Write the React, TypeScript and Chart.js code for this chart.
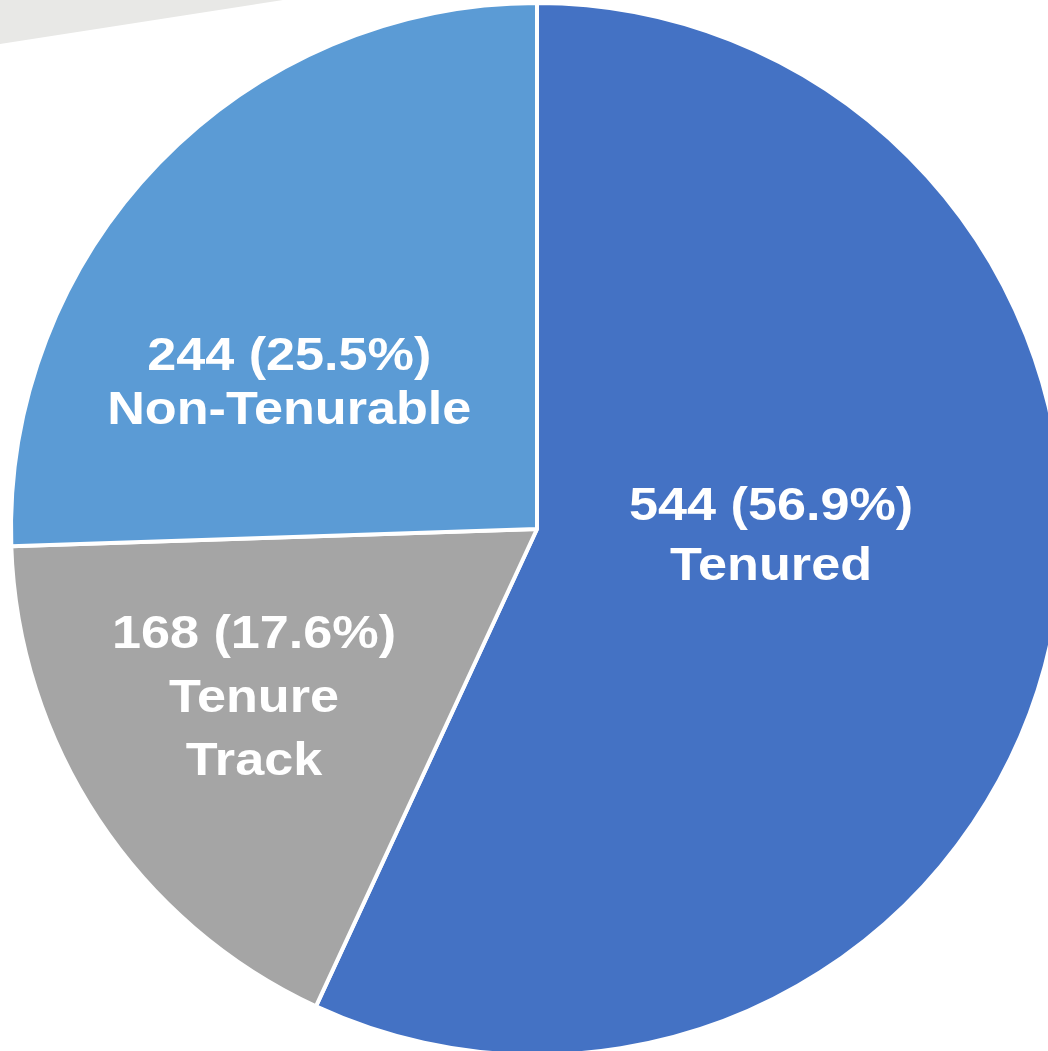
import React, { useEffect, useRef } from "react";
import { Chart, registerables } from "chart.js";

Chart.register(...registerables);

const CATEGORIES = ["Tenured", "Tenure Track", "Non-Tenurable"];
const LABEL_LINES = [["Tenured"], ["Tenure", "Track"], ["Non-Tenurable"]];
const COUNTS = [544, 168, 244];
const PERCENTS = ["56.9%", "17.6%", "25.5%"];
const COLORS = ["#4472C4", "#A5A5A5", "#5B9BD5"];

// label placement (style): first-baseline offset from pie centre in radius units, and line height
const LABEL_PLACE = [
  { fx: 0.445, fy: -0.017, lh: 60 },
  { fx: -0.538, fy: 0.227, lh: 63.5 },
  { fx: -0.471, fy: -0.303, lh: 54 },
];

const CANVAS_W = 1074;
const CANVAS_H = 1058;

const labelPlugin = {
  id: "sliceLabels",
  afterDatasetsDraw(chart: any) {
    const { ctx } = chart;
    const meta = chart.getDatasetMeta(0);
    meta.data.forEach((arc: any, i: number) => {
      const r = arc.outerRadius;
      const place = LABEL_PLACE[i];
      const x = arc.x + place.fx * r;
      const y0 = arc.y + place.fy * r;
      const lines = [`${COUNTS[i]} (${PERCENTS[i]})`, ...LABEL_LINES[i]];
      ctx.save();
      ctx.fillStyle = "#FFFFFF";
      ctx.font = "bold 47px 'Liberation Sans', Arial, sans-serif";
      ctx.textAlign = "center";
      ctx.textBaseline = "alphabetic";
      lines.forEach((line, k) => {
        ctx.save();
        ctx.translate(x, y0 + k * place.lh);
        ctx.scale(1.11, 1);
        ctx.fillText(line, 0, 0);
        ctx.restore();
      });
      ctx.restore();
    });
  },
};

export default function App() {
  const ref = useRef<HTMLCanvasElement | null>(null);
  useEffect(() => {
    if (!ref.current) return;
    const chart = new Chart(ref.current, {
      type: "pie",
      data: {
        labels: CATEGORIES,
        datasets: [
          {
            data: COUNTS,
            backgroundColor: COLORS,
            borderColor: "#FFFFFF",
            borderWidth: 4,
          },
        ],
      },
      options: {
        responsive: false,
        animation: false,
        radius: 526,
        layout: { padding: 0 },
        plugins: {
          legend: { display: false },
          tooltip: { enabled: false },
          title: { display: false },
        },
      } as any,
      plugins: [labelPlugin],
    });
    return () => chart.destroy();
  }, []);

  return (
    <div
      style={{
        position: "fixed",
        left: 0,
        top: 0,
        width: 1048,
        height: 1051,
        overflow: "hidden",
        background: "#FFFFFF",
      }}
    >
      <div
        style={{
          position: "absolute",
          left: 0,
          top: 0,
          width: 290,
          height: 46,
          background: "#E8E8E6",
          clipPath: "polygon(0 0, 283px 0, 0 44px)",
        }}
      />
      <canvas
        ref={ref}
        width={CANVAS_W}
        height={CANVAS_H}
        style={{ position: "absolute", left: 0, top: 0, width: CANVAS_W, height: CANVAS_H }}
      />
    </div>
  );
}
